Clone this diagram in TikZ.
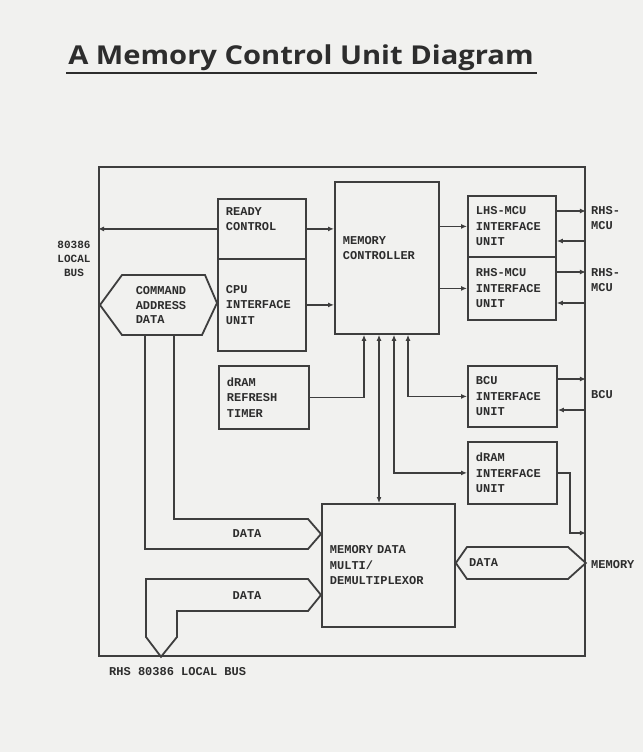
\documentclass[tikz,border=0pt]{standalone}
\usepackage{fontspec}
\usetikzlibrary{arrows.meta,positioning,calc}
\newfontfamily\plotfont{Liberation Mono}
\newfontfamily\titlefont{Open Sans}[FakeStretch=1.12]
\definecolor{inkLine}{RGB}{62, 62, 62}
\definecolor{inkText}{RGB}{45, 45, 45}
\definecolor{paperGray}{RGB}{241, 241, 239}

\tikzset{
  unitBox/.style={draw=inkLine, line width=1.8pt, align=left, anchor=north west,
    inner xsep=8pt, inner ysep=0pt, text=inkText,
    font=\plotfont\bfseries\fontsize{12}{15.5}\selectfont},
  pinLabel/.style={text=inkText, inner sep=0pt, align=left,
    font=\plotfont\bfseries\fontsize{12}{14.5}\selectfont},
  wire/.style={draw=inkLine, line width=1.8pt, -{Latex[length=6pt,width=5pt]}},
  biWire/.style={wire, {Latex[length=6pt,width=5pt]}-{Latex[length=6pt,width=5pt]}},
  band/.style={draw=inkLine, line width=1.8pt, line join=miter}
}

\begin{document}
\begin{tikzpicture}[x=1pt, y=-1pt]
\path[use as bounding box, fill=paperGray] (0,0) rectangle (643,752);

% title
\node[anchor=base, inner sep=0pt, text=inkText,
      font=\titlefont\bfseries\fontsize{26}{30}\selectfont] (title) at (301,65)
      {A Memory Control Unit Diagram};
\draw[line width=2pt, draw=inkText] (66,73) -- (537,73);

% frame of the unit
\node[draw=inkLine, line width=1.8pt, anchor=north west, inner sep=0pt,
      minimum width=486pt, minimum height=489pt] (chip) at (98,166) {};

% blocks
\node[unitBox, text width=72pt, minimum height=60pt] (rdy) at (217,198) {READY\\CONTROL\\\strut};
\node[unitBox, text width=72pt, minimum height=92pt] (cpu) at (217,258) {CPU\\INTERFACE\\UNIT};
\node[unitBox, text width=88pt, minimum height=152pt] (mc) at (334,181) {MEMORY\\CONTROLLER\\\strut};
\node[unitBox, text width=72pt, minimum height=61pt] (lhs) at (467,195) {LHS-MCU\\INTERFACE\\UNIT};
\node[unitBox, text width=72pt, minimum height=63pt] (rhs) at (467,256) {RHS-MCU\\INTERFACE\\UNIT};
\node[unitBox, text width=74pt, minimum height=63pt] (tmr) at (218,365) {dRAM\\REFRESH\\TIMER};
\node[unitBox, text width=73pt, minimum height=61pt] (bcu) at (467,365) {BCU\\INTERFACE\\UNIT};
\node[unitBox, text width=73pt, minimum height=62pt] (dif) at (467,441) {dRAM\\INTERFACE\\UNIT};
\node[unitBox, text width=117pt, minimum height=123pt] (mux) at (321,503) {MEMORY DATA\\MULTI/\\DEMULTIPLEXOR};

% left side
\draw[wire] (rdy.west) -- (rdy.west -| chip.west);
\draw[wire] (rdy.east) -- (rdy.east -| mc.west);
\draw[wire] (cpu.east) -- (cpu.east -| mc.west);
\draw[band] (100,305) -- (122,275) -- (205,275) -- (cpu.west |- 0,303) -- (202,335) -- (122,335) -- cycle;
\node[pinLabel] (cmd) at (161,305) {COMMAND\\ADDRESS\\DATA};

% controller to the right hand units
\draw[wire] (lhs.west -| mc.east) -- (lhs.west);
\draw[wire] (rhs.west -| mc.east) -- (rhs.west);
\draw[wire] (lhs.east |- 0,211) -- (chip.east |- 0,211);
\draw[wire] (chip.east |- 0,241) -- (lhs.east |- 0,241);
\draw[wire] (rhs.east |- 0,272) -- (chip.east |- 0,272);
\draw[wire] (chip.east |- 0,303) -- (rhs.east |- 0,303);
\draw[wire] (bcu.east |- 0,379) -- (chip.east |- 0,379);
\draw[wire] (chip.east |- 0,410) -- (bcu.east |- 0,410);
\draw[wire] (dif.east) -- (dif.east -| 570,0) -- (570,533) -- (chip.east |- 0,533);

% below the controller
\draw[wire] (tmr.east) -- (tmr.east -| 364,0) -- (mc.south -| 364,0);
\draw[biWire] (mc.south -| 379,0) -- (mux.north -| 379,0);
\draw[biWire] (mc.south -| 394,0) -- (dif.west -| 394,0) -- (dif.west);
\draw[biWire] (mc.south -| 408,0) -- (bcu.west -| 408,0) -- (bcu.west);

% data paths
\draw[band] (174,335) -- (174,519) -- (308,519) -- (mux.west |- 0,534) -- (308,549) -- (145,549) -- (145,335);
\node[pinLabel] (dataA) at (247,534) {DATA};
\draw[band] (mux.west |- 0,595) -- (308,579) -- (146,579) -- (146,637) -- (chip.south -| 161,0)
  -- (177,637) -- (177,611) -- (308,611) -- cycle;
\node[pinLabel] (dataB) at (247,596) {DATA};
\draw[band] (mux.east |- 0,563) -- (467,547) -- (568,547) -- (chip.east |- 0,563) -- (568,579) -- (467,579) -- cycle;
\node[pinLabel, anchor=west] (dataM) at (469,563) {DATA};

% outside labels
\node[pinLabel, align=center, font=\plotfont\bfseries\fontsize{11}{14}\selectfont] (localBus) at (74,259) {80386\\LOCAL\\BUS};
\node[pinLabel, anchor=west] (pinLhs) at (591,218) {RHS-\\MCU};
\node[pinLabel, anchor=west] (pinRhs) at (591,280) {RHS-\\MCU};
\node[pinLabel, anchor=west] (pinBcu) at (591,395) {BCU};
\node[pinLabel, anchor=west] (pinMem) at (591,565) {MEMORY};
\node[pinLabel, anchor=west] (rhsBus) at (109,672) {RHS 80386 LOCAL BUS};
\end{tikzpicture}
\end{document}
